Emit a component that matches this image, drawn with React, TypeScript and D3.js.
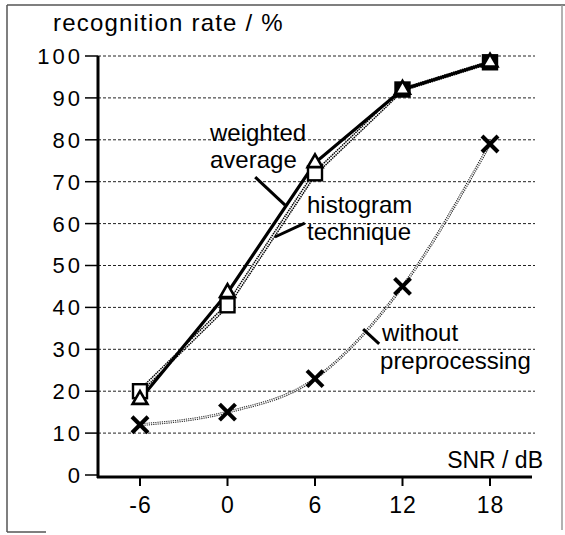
import React, { useEffect, useRef } from "react";
import * as d3 from "d3";

// values
const snr = [-6, 0, 6, 12, 18];
const weightedAverage = [18, 43.5, 74.5, 92, 98.5];
const histogramTechnique = [20, 40.5, 72, 92, 98.5];
const withoutPreprocessing = [12, 15, 23, 45, 79];
const yTicks = [0, 10, 20, 30, 40, 50, 60, 70, 80, 90, 100];

// annotation texts, placed in data units (snr, %)
const labels = [
  { text: "weighted", at: [-1.2, 79.7] },
  { text: "average", at: [-1.2, 73.3] },
  { text: "histogram", at: [5.45, 62.5] },
  { text: "technique", at: [5.45, 56.1] },
  { text: "without", at: [10.6, 32.0] },
  { text: "preprocessing", at: [10.46, 25.3] },
];
const leaders = [
  [[1.9, 71.1], [3.95, 64.4]],
  [[5.3, 60.1], [3.25, 56.8]],
  [[9.3, 34.8], [10.4, 31.3]],
];

const FONT = "'Liberation Sans', Arial, Helvetica, sans-serif";

const Chart = () => {
  const ref = useRef<SVGSVGElement>(null);

  useEffect(() => {
    const svg = d3.select(ref.current);
    svg.selectAll("*").remove();

    const width = 565;
    const height = 535;

    const x = d3.scaleLinear().domain([-6, 18]).range([140, 490]);
    const y = d3.scaleLinear().domain([0, 100]).range([475, 56]);
    const axisX = 98;
    const gridEnd = 535;

    svg.attr("width", width).attr("height", height);

    // scanned frame
    const frame = svg.append("g").attr("stroke", "#555").attr("stroke-width", 1.5);
    frame.append("line").attr("x1", 7).attr("x2", 565).attr("y1", 5).attr("y2", 5);
    frame.append("line").attr("x1", 7).attr("x2", 7).attr("y1", 5).attr("y2", 532);
    frame.append("line").attr("x1", 7).attr("x2", 46).attr("y1", 532).attr("y2", 532);
    frame.append("line").attr("x1", 562).attr("x2", 562).attr("y1", 5).attr("y2", 530).attr("stroke", "#999");

    // title
    svg
      .append("text")
      .attr("x", 53)
      .attr("y", 31)
      .attr("font-family", FONT)
      .attr("font-size", 24)
      .attr("letter-spacing", 1.2)
      .text("recognition rate / %");

    // grid + y ticks
    const gy = svg.append("g");
    gy.selectAll("line.grid")
      .data(yTicks.filter((d) => d > 0))
      .join("line")
      .attr("class", "grid")
      .attr("x1", axisX)
      .attr("x2", gridEnd)
      .attr("y1", (d) => y(d))
      .attr("y2", (d) => y(d))
      .attr("stroke", "#222")
      .attr("stroke-width", 1)
      .attr("stroke-dasharray", "3,2");
    gy.selectAll("line.tick")
      .data(yTicks)
      .join("line")
      .attr("class", "tick")
      .attr("x1", 85)
      .attr("x2", axisX)
      .attr("y1", (d) => y(d))
      .attr("y2", (d) => y(d))
      .attr("stroke", "#000")
      .attr("stroke-width", 1.5);
    gy.selectAll("text")
      .data(yTicks)
      .join("text")
      .attr("x", 83)
      .attr("y", (d) => y(d))
      .attr("dy", "0.36em")
      .attr("text-anchor", "end")
      .attr("font-family", FONT)
      .attr("font-size", 22)
      .attr("letter-spacing", 3)
      .text((d) => d);

    // axes
    svg
      .append("line")
      .attr("x1", axisX)
      .attr("x2", axisX)
      .attr("y1", y(100))
      .attr("y2", y(0) + 3)
      .attr("stroke", "#000")
      .attr("stroke-width", 3);
    svg
      .append("line")
      .attr("x1", axisX - 1)
      .attr("x2", 532)
      .attr("y1", y(0) + 2)
      .attr("y2", y(0) + 2)
      .attr("stroke", "#000")
      .attr("stroke-width", 3);

    const gx = svg.append("g");
    gx.selectAll("line")
      .data(snr)
      .join("line")
      .attr("x1", (d) => x(d))
      .attr("x2", (d) => x(d))
      .attr("y1", y(0) + 2)
      .attr("y2", y(0) + 11)
      .attr("stroke", "#000")
      .attr("stroke-width", 2);
    gx.selectAll("text")
      .data(snr)
      .join("text")
      .attr("x", (d) => x(d) + 0.5)
      .attr("y", 513)
      .attr("text-anchor", "middle")
      .attr("font-family", FONT)
      .attr("font-size", 23)
      .attr("letter-spacing", 1)
      .text((d) => d);

    svg
      .append("text")
      .attr("x", 543)
      .attr("y", 468)
      .attr("text-anchor", "end")
      .attr("font-family", FONT)
      .attr("font-size", 23)
      .text("SNR / dB");

    const pts = (vals: number[]) => snr.map((s, i) => [x(s), y(vals[i])] as [number, number]);
    const straight = d3.line();
    const smooth = d3.line().curve(d3.curveMonotoneX);

    // without preprocessing: thin chain line
    svg.append("path").attr("d", smooth(pts(withoutPreprocessing)))
      .attr("fill", "none").attr("stroke", "#222").attr("stroke-width", 2.8).attr("stroke-dasharray", "1.2,1");
    svg.append("path").attr("d", smooth(pts(withoutPreprocessing)))
      .attr("fill", "none").attr("stroke", "#fff").attr("stroke-width", 0.8);

    // histogram technique: wider chain line
    svg.append("path").attr("d", straight(pts(histogramTechnique)))
      .attr("fill", "none").attr("stroke", "#000").attr("stroke-width", 4).attr("stroke-dasharray", "1.5,0.8");
    svg.append("path").attr("d", straight(pts(histogramTechnique)))
      .attr("fill", "none").attr("stroke", "#fff").attr("stroke-width", 1.1);

    // weighted average: solid
    svg.append("path").attr("d", straight(pts(weightedAverage)))
      .attr("fill", "none").attr("stroke", "#000").attr("stroke-width", 3.2);

    // square markers (black when the triangle sits on top)
    const sq = 14;
    svg.append("g")
      .selectAll("rect")
      .data(snr)
      .join("rect")
      .attr("x", (d) => x(d) - sq / 2)
      .attr("y", (d, i) => y(histogramTechnique[i]) - sq / 2)
      .attr("width", sq)
      .attr("height", sq)
      .attr("fill", (d, i) => (Math.abs(histogramTechnique[i] - weightedAverage[i]) < 1 ? "#000" : "#fff"))
      .attr("stroke", "#000")
      .attr("stroke-width", 2.4);

    // triangle markers
    const tri = d3.symbol().type(d3.symbolTriangle).size(95);
    svg.append("g")
      .selectAll("path")
      .data(snr)
      .join("path")
      .attr("d", tri)
      .attr("transform", (d, i) => `translate(${x(d)},${y(weightedAverage[i])})`)
      .attr("fill", "#fff")
      .attr("stroke", "#000")
      .attr("stroke-width", 2.6);

    // cross markers
    const cross = 8;
    const gc = svg.append("g").attr("stroke", "#000").attr("stroke-width", 4);
    gc.selectAll("g")
      .data(snr)
      .join("g")
      .attr("transform", (d, i) => `translate(${x(d)},${y(withoutPreprocessing[i])})`)
      .each(function () {
        const g = d3.select(this);
        g.append("line").attr("x1", -cross).attr("y1", -cross).attr("x2", cross).attr("y2", cross);
        g.append("line").attr("x1", -cross).attr("y1", cross).attr("x2", cross).attr("y2", -cross);
      });

    // annotations
    svg.append("g")
      .selectAll("text")
      .data(labels)
      .join("text")
      .attr("x", (d) => x(d.at[0]))
      .attr("y", (d) => y(d.at[1]))
      .attr("font-family", FONT)
      .attr("font-size", 24)
      .text((d) => d.text);
    svg.append("g")
      .selectAll("line")
      .data(leaders)
      .join("line")
      .attr("x1", (d) => x(d[0][0]))
      .attr("y1", (d) => y(d[0][1]))
      .attr("x2", (d) => x(d[1][0]))
      .attr("y2", (d) => y(d[1][1]))
      .attr("stroke", "#000")
      .attr("stroke-width", 3);
  }, []);

  return <svg ref={ref} style={{ position: "absolute", left: 0, top: 0, background: "#fff" }} />;
};

export default function App() {
  return <Chart />;
}
